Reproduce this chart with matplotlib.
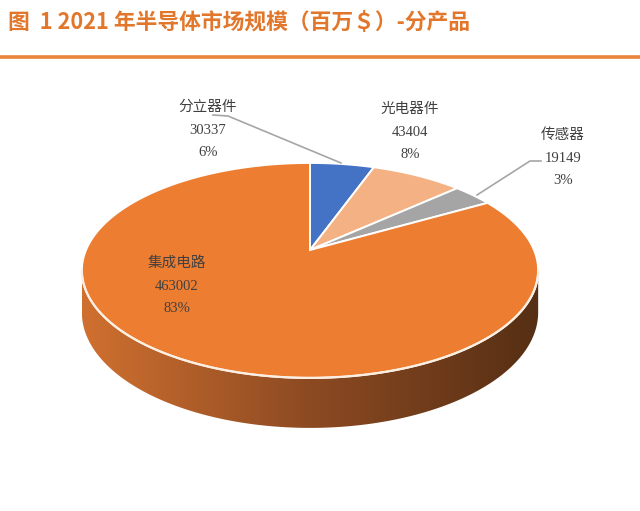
import numpy as np
import matplotlib.pyplot as plt
from matplotlib.patches import Polygon

plt.rcParams['font.family'] = ['Noto Sans CJK SC', 'DejaVu Sans']

# data
categories = ["分立器件", "光电器件", "传感器", "集成电路"]
values = [30337, 43404, 19149, 463002]
pct_labels = ["6%", "8%", "3%", "83%"]
colors = ["#4472C4", "#F4B183", "#A5A5A5", "#ED7D31"]

title = "图  1 2021 年半导体市场规模（百万＄）-分产品"

# pie geometry in pixel units (perspective view of a disc)
CX, CY = 310, 250     # centre of the top face
A, B = 224, 103.6     # horizontal / depth radius
K = 0.19              # perspective strength
T = 40.5              # thickness of the disc


def project(theta, z=0.0):
    """theta clockwise from 12 o'clock, z=0 top face, z=1 bottom face"""
    u = np.sin(theta)
    w = np.cos(theta)
    d = 1 + K * w
    return CX + A * u / d, CY - B * w / d + T * z / d


fig = plt.figure(figsize=(6.4, 5.11), dpi=100)
ax = fig.add_axes([0, 0, 1, 1])
ax.set_xlim(0, 640)
ax.set_ylim(511, 0)
ax.axis('off')

# --- side of the disc (only the front part is visible) ---
t_right = np.arccos(-K)
t_left = 2 * np.pi - t_right
ts = np.linspace(t_right, t_left, 200)
xt, yt = project(ts, 0)
xb, yb = project(ts[::-1], 1)
side = Polygon(np.column_stack([np.r_[xt, xb], np.r_[yt, yb]]),
               closed=True, facecolor='none', edgecolor='none')
ax.add_patch(side)

stops = np.array([[208, 112, 48], [140, 74, 34], [86, 47, 20]]) / 255
g = np.linspace(0, 1, 300)
grad = np.column_stack([np.interp(g, [0, 0.5, 1], stops[:, i]) for i in range(3)])
img = ax.imshow(grad[np.newaxis, :, :], aspect='auto',
                extent=[xt.min(), xt.max(), yb.max() + 2, yt.min() - 2],
                zorder=1)
img.set_clip_path(side)

# --- top face slices ---
fracs = np.array(values) / sum(values)
edges = np.r_[0, np.cumsum(fracs)] * 2 * np.pi
for i in range(len(values)):
    th = np.linspace(edges[i], edges[i + 1], 200)
    px, py = project(th, 0)
    poly = Polygon(np.column_stack([np.r_[CX, px], np.r_[CY, py]]),
                   closed=True, facecolor=colors[i], edgecolor='white',
                   linewidth=1.4, joinstyle='miter', zorder=2)
    ax.add_patch(poly)

# light rim between top face and side
ax.plot(xt, yt, color='#FBEFE3', lw=1.6, zorder=3)

# --- data labels ---
lab_font = dict(family=['Liberation Serif', 'Noto Sans CJK SC'],
                fontsize=10.5, color='#404040', ha='center', va='center',
                zorder=5)
label_pos = [(208, 107), (410, 109), (563, 135), (177, 263)]
for name, val, pct, (lx, ly) in zip(categories, values, pct_labels, label_pos):
    ax.text(lx, ly, name, **lab_font)
    ax.text(lx, ly + 23, str(val), **lab_font)
    ax.text(lx, ly + 46, pct, **lab_font)

# leader lines
ax.plot([213, 228, 341], [115, 116, 163], color='#A6A6A6', lw=1.2, zorder=4)
ax.plot([541, 530, 477], [161, 161, 195], color='#A6A6A6', lw=1.2, zorder=4)

# --- title and rule ---
ax.text(8, 23, title, fontsize=15.7, fontweight='bold', color='#E2772C',
        ha='left', va='center')
ax.plot([0, 640], [57, 57], color='#E8843C', lw=2.6, solid_capstyle='butt')

fig.savefig('out.png', dpi=100)
